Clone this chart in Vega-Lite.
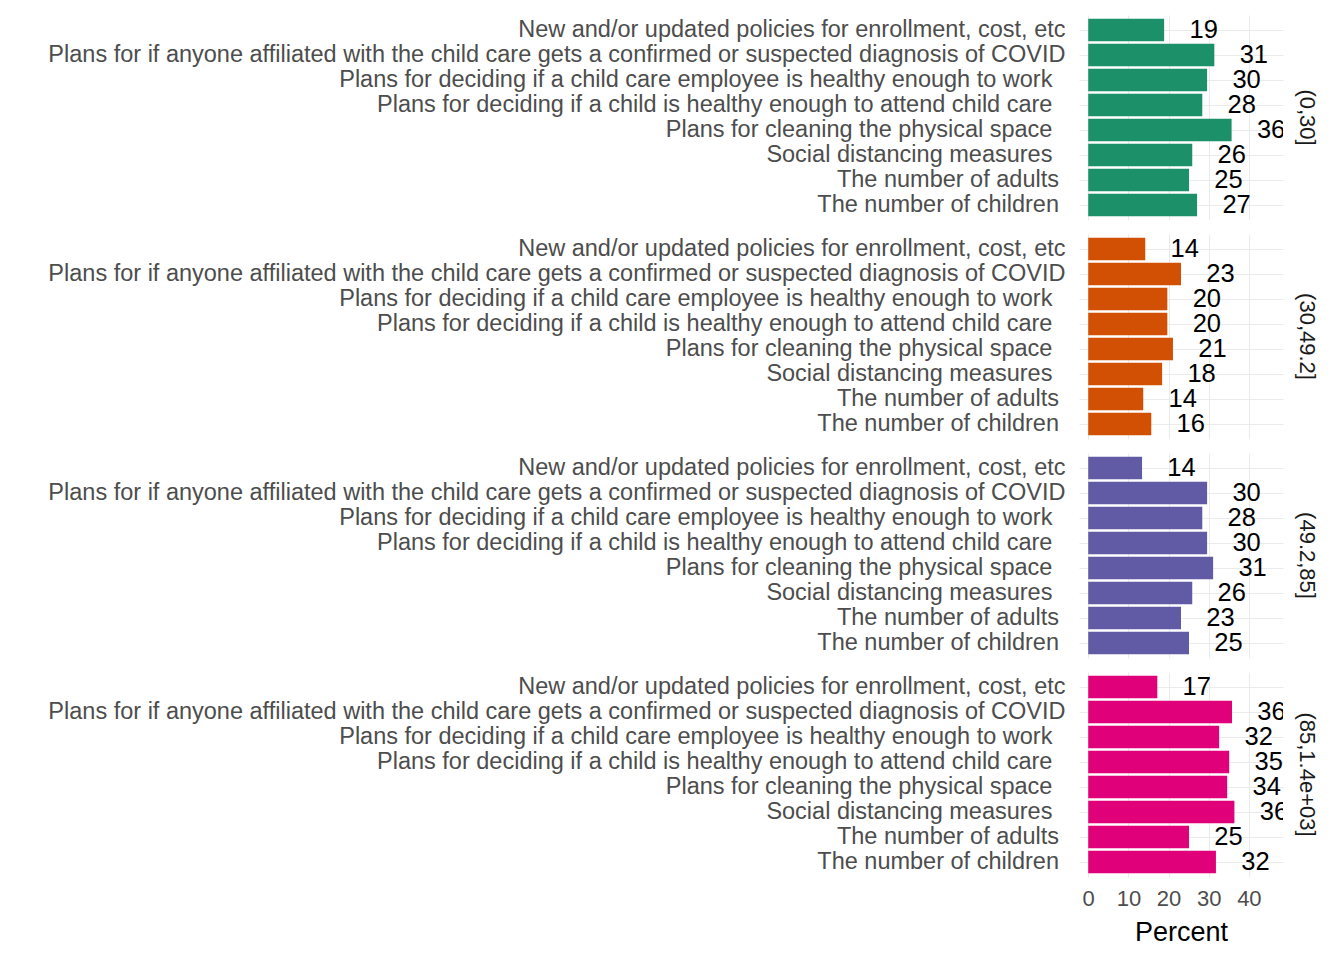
{
  "$schema": "https://vega.github.io/schema/vega-lite/v6.json",
  "padding": {"left": 47, "top": 15, "right": 10, "bottom": 10},
  "background": "white",
  "data": {"values": [
    {"group": "(0,30]", "item": "New and/or updated policies for enrollment, cost, etc", "value": 18.9, "label": "19"},
    {"group": "(0,30]", "item": "Plans for if anyone affiliated with the child care gets a confirmed or suspected diagnosis of COVID", "value": 31.4, "label": "31"},
    {"group": "(0,30]", "item": "Plans for deciding if a child care employee is healthy enough to work\u00a0\u00a0\u200b", "value": 29.6, "label": "30"},
    {"group": "(0,30]", "item": "Plans for deciding if a child is healthy enough to attend child care\u00a0\u00a0\u200b", "value": 28.4, "label": "28"},
    {"group": "(0,30]", "item": "Plans for cleaning the physical space\u00a0\u00a0\u200b", "value": 35.7, "label": "36"},
    {"group": "(0,30]", "item": "Social distancing measures\u00a0\u00a0\u200b", "value": 25.9, "label": "26"},
    {"group": "(0,30]", "item": "The number of adults\u00a0\u200b", "value": 25.1, "label": "25"},
    {"group": "(0,30]", "item": "The number of children\u00a0\u200b", "value": 27.1, "label": "27"},
    {"group": "(30,49.2]", "item": "New and/or updated policies for enrollment, cost, etc", "value": 14.2, "label": "14"},
    {"group": "(30,49.2]", "item": "Plans for if anyone affiliated with the child care gets a confirmed or suspected diagnosis of COVID", "value": 23.1, "label": "23"},
    {"group": "(30,49.2]", "item": "Plans for deciding if a child care employee is healthy enough to work\u00a0\u00a0\u200b", "value": 19.7, "label": "20"},
    {"group": "(30,49.2]", "item": "Plans for deciding if a child is healthy enough to attend child care\u00a0\u00a0\u200b", "value": 19.7, "label": "20"},
    {"group": "(30,49.2]", "item": "Plans for cleaning the physical space\u00a0\u00a0\u200b", "value": 21.1, "label": "21"},
    {"group": "(30,49.2]", "item": "Social distancing measures\u00a0\u00a0\u200b", "value": 18.4, "label": "18"},
    {"group": "(30,49.2]", "item": "The number of adults\u00a0\u200b", "value": 13.7, "label": "14"},
    {"group": "(30,49.2]", "item": "The number of children\u00a0\u200b", "value": 15.7, "label": "16"},
    {"group": "(49.2,85]", "item": "New and/or updated policies for enrollment, cost, etc", "value": 13.4, "label": "14"},
    {"group": "(49.2,85]", "item": "Plans for if anyone affiliated with the child care gets a confirmed or suspected diagnosis of COVID", "value": 29.6, "label": "30"},
    {"group": "(49.2,85]", "item": "Plans for deciding if a child care employee is healthy enough to work\u00a0\u00a0\u200b", "value": 28.4, "label": "28"},
    {"group": "(49.2,85]", "item": "Plans for deciding if a child is healthy enough to attend child care\u00a0\u00a0\u200b", "value": 29.6, "label": "30"},
    {"group": "(49.2,85]", "item": "Plans for cleaning the physical space\u00a0\u00a0\u200b", "value": 31.1, "label": "31"},
    {"group": "(49.2,85]", "item": "Social distancing measures\u00a0\u00a0\u200b", "value": 25.9, "label": "26"},
    {"group": "(49.2,85]", "item": "The number of adults\u00a0\u200b", "value": 23.1, "label": "23"},
    {"group": "(49.2,85]", "item": "The number of children\u00a0\u200b", "value": 25.1, "label": "25"},
    {"group": "(85,1.4e+03]", "item": "New and/or updated policies for enrollment, cost, etc", "value": 17.2, "label": "17"},
    {"group": "(85,1.4e+03]", "item": "Plans for if anyone affiliated with the child care gets a confirmed or suspected diagnosis of COVID", "value": 35.8, "label": "36"},
    {"group": "(85,1.4e+03]", "item": "Plans for deciding if a child care employee is healthy enough to work\u00a0\u00a0\u200b", "value": 32.6, "label": "32"},
    {"group": "(85,1.4e+03]", "item": "Plans for deciding if a child is healthy enough to attend child care\u00a0\u00a0\u200b", "value": 35.1, "label": "35"},
    {"group": "(85,1.4e+03]", "item": "Plans for cleaning the physical space\u00a0\u00a0\u200b", "value": 34.6, "label": "34"},
    {"group": "(85,1.4e+03]", "item": "Social distancing measures\u00a0\u00a0\u200b", "value": 36.4, "label": "36"},
    {"group": "(85,1.4e+03]", "item": "The number of adults\u00a0\u200b", "value": 25.1, "label": "25"},
    {"group": "(85,1.4e+03]", "item": "The number of children\u00a0\u200b", "value": 31.8, "label": "32"}
  ]},
  "facet": {
    "row": {
      "field": "group",
      "type": "nominal",
      "sort": ["(0,30]", "(30,49.2]", "(49.2,85]", "(85,1.4e+03]"],
      "header": {
        "title": null,
        "labelOrient": "right",
        "labelAngle": 90,
        "labelFontSize": 22,
        "labelColor": "#1A1A1A",
        "labelFont": "Liberation Sans",
        "labelPadding": 12
      }
    }
  },
  "spacing": 14,
  "spec": {
    "width": 204,
    "height": 205,
    "encoding": {
      "y": {
        "field": "item",
        "type": "nominal",
        "sort": [
          "New and/or updated policies for enrollment, cost, etc",
          "Plans for if anyone affiliated with the child care gets a confirmed or suspected diagnosis of COVID",
          "Plans for deciding if a child care employee is healthy enough to work\u00a0\u00a0\u200b",
          "Plans for deciding if a child is healthy enough to attend child care\u00a0\u00a0\u200b",
          "Plans for cleaning the physical space\u00a0\u00a0\u200b",
          "Social distancing measures\u00a0\u00a0\u200b",
          "The number of adults\u00a0\u200b",
          "The number of children\u00a0\u200b"
        ],
        "scale": {"paddingInner": 0.1, "paddingOuter": 0.15},
        "axis": {
          "title": null,
          "ticks": false,
          "domain": false,
          "grid": true,
          "bandPosition": 0.5,
          "gridColor": "#EBEBEB",
          "gridWidth": 1.1,
          "labelFontSize": 23.5,
          "labelColor": "#4D4D4D",
          "labelPadding": 14,
          "labelLimit": 1200
        }
      }
    },
    "layer": [
      {
        "mark": {"type": "bar"},
        "encoding": {
          "x": {
            "field": "value",
            "type": "quantitative",
            "scale": {"domain": [-2.3, 48.5], "nice": false, "zero": false},
            "axis": {
              "title": "Percent",
              "values": [0, 5, 10, 15, 20, 25, 30, 35, 40, 45],
              "labelExpr": "datum.value % 10 === 0 ? datum.label : ''",
              "labelOverlap": false,
              "labelFlush": false,
              "ticks": false,
              "domain": false,
              "gridColor": "#EBEBEB",
              "gridWidth": 1.1,
              "labelFontSize": 22,
              "labelColor": "#4D4D4D",
              "labelPadding": 11,
              "titleFontSize": 27,
              "titleColor": "#000000",
              "titleFontWeight": "normal",
              "titlePadding": 10
            }
          },
          "color": {
            "field": "group",
            "type": "nominal",
            "scale": {
              "domain": ["(0,30]", "(30,49.2]", "(49.2,85]", "(85,1.4e+03]"],
              "range": ["#1C9068", "#D25004", "#615AA5", "#E0007A"]
            },
            "legend": null
          }
        }
      },
      {
        "mark": {"type": "text", "dx": 39.5, "align": "center", "baseline": "middle", "fontSize": 25.5, "color": "#000000", "clip": true},
        "encoding": {
          "x": {"field": "value", "type": "quantitative"},
          "text": {"field": "label", "type": "nominal"}
        }
      }
    ]
  },
  "config": {
    "font": "Liberation Sans",
    "view": {"stroke": null}
  }
}
